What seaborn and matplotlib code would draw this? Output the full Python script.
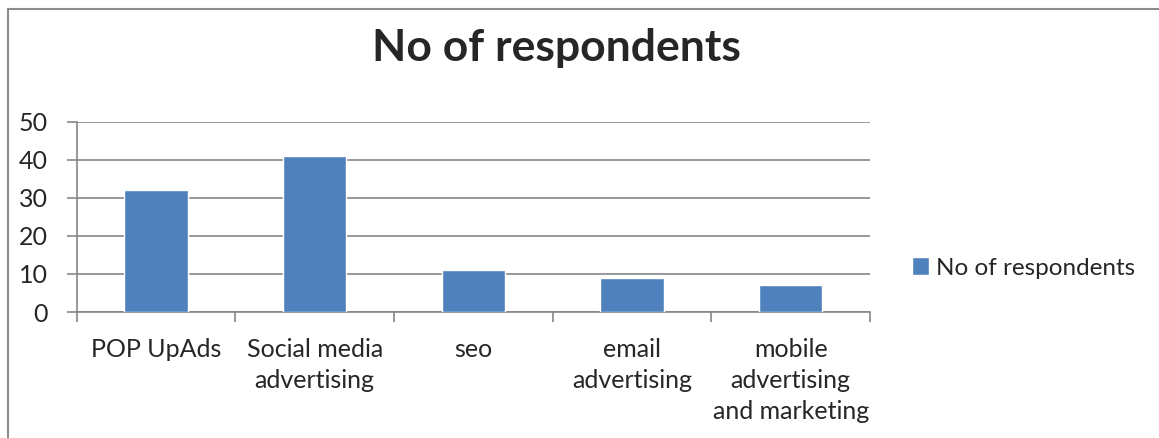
import matplotlib
matplotlib.use('Agg')
import matplotlib.pyplot as plt
import seaborn as sns
import numpy as np
from matplotlib.lines import Line2D

# data
categories = ['POP UpAds', 'Social media\nadvertising', 'seo', 'email\nadvertising',
              'mobile\nadvertising\nand marketing']
respondents = [32, 41, 11, 9, 7]
series_name = 'No of respondents'
y_ticks = [0, 10, 20, 30, 40, 50]

bar_color = '#4F81BD'
grid_color = '#868686'

sns.set_style('white')
plt.rcParams['font.family'] = ['Lato', 'DejaVu Sans']

fig = plt.figure(figsize=(11.59, 4.38), dpi=100)
ax = fig.add_axes([76.7 / 1159, 1 - 312 / 438, (870 - 76.7) / 1159, (312 - 121.7) / 438])

sns.barplot(x=categories, y=respondents, color=bar_color, width=0.4, ax=ax,
            label=series_name, saturation=1, zorder=3)

ax.set_ylim(0, 50)
ax.set_xlim(-0.5, len(categories) - 0.5)
ax.set_yticks(y_ticks)
ax.set_yticklabels([str(t) for t in y_ticks], fontsize=18)
ax.yaxis.grid(True, color=grid_color, linewidth=1.2, zorder=0)
ax.set_axisbelow(True)

# category labels at centres, tick marks at boundaries
ax.set_xticks(range(len(categories)))
ax.set_xticklabels(categories, fontsize=18, linespacing=1.4)
ax.tick_params(axis='x', which='major', length=0, pad=19)
ax.set_xticks(np.arange(-0.5, len(categories), 1), minor=True)
ax.tick_params(axis='x', which='minor', length=7, color=grid_color, width=1.2, direction='out')
ax.tick_params(axis='y', length=7, color=grid_color, width=1.2, direction='out', pad=14)
ax.tick_params(which='both', bottom=True, left=True)

for s in ['top', 'right']:
    ax.spines[s].set_visible(False)
for s in ['left', 'bottom']:
    ax.spines[s].set_color(grid_color)
    ax.spines[s].set_linewidth(1.2)

ax.set_xlabel('')
ax.set_ylabel('')

fig.suptitle(series_name, x=556 / 1159, y=1 - 48 / 438, va='center',
             fontsize=32, fontweight='bold')

ax.legend(loc='center left', bbox_to_anchor=(890 / 1159, 1 - 268 / 438),
          bbox_transform=fig.transFigure, frameon=False, fontsize=17.5,
          handlelength=0.7, handleheight=0.7, handletextpad=0.3)

# chart border (left and top edges visible)
fig.add_artist(Line2D([8 / 1159, 8 / 1159], [0, 1 - 9 / 438], color='#8C8C8C', lw=1.5,
                      transform=fig.transFigure))
fig.add_artist(Line2D([8 / 1159, 1], [1 - 9 / 438, 1 - 9 / 438], color='#8C8C8C', lw=1.5,
                      transform=fig.transFigure))

fig.savefig('out.png', dpi=100)
